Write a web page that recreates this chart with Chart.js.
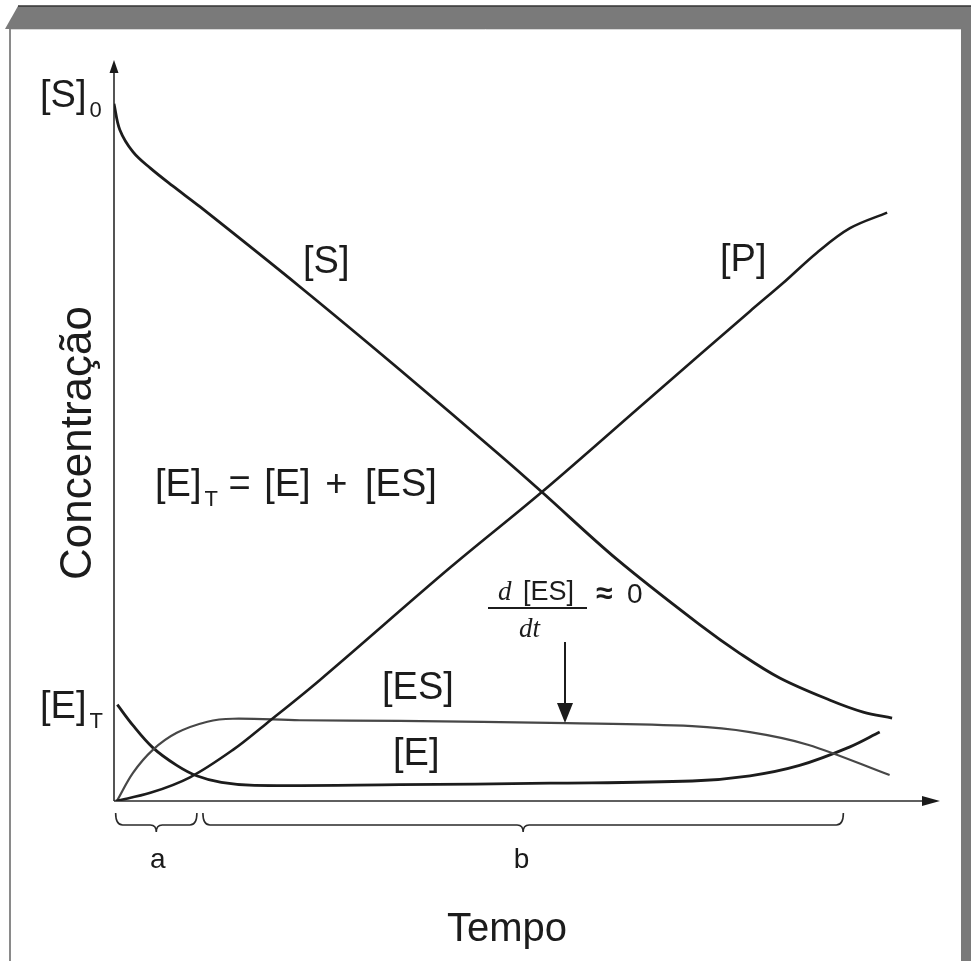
<!DOCTYPE html>
<html>
<head>
<meta charset="utf-8">
<script src="https://cdn.jsdelivr.net/npm/chart.js@4"></script>
<style>
  html, body { margin: 0; padding: 0; background: #fff; }
  #wrap { width: 971px; height: 961px; }
</style>
</head>
<body>
<div id="wrap"><canvas id="kinetics"></canvas></div>
<script>
// ─── Enzyme kinetics: concentration vs time ───
// time (0-100) and concentration (0-100)

const sTime = [0, 0.7, 2.3, 4.4, 7.1, 10.4, 22.5, 34.6, 46.7, 51.8, 60.9, 70.9, 75.8, 80.6, 86.7, 90.7, 94.2];
const sConc = [94.1, 90.6, 87.6, 85.4, 83.0, 80.2, 69.4, 58.2, 46.7, 41.7, 32.6, 23.8, 19.9, 16.6, 13.6, 12.0, 11.2];

const pTime = [0.2, 4.4, 9.2, 14.4, 18.5, 24.9, 40.7, 51.8, 64.9, 77.0, 81.0, 85.1, 89.1, 93.6];
const pConc = [0, 1.1, 3.2, 6.9, 10.5, 16.3, 31.5, 41.7, 54.4, 66.1, 69.9, 74.0, 77.3, 79.4];

const esTime = [0.4, 2.3, 4.7, 7.6, 11.3, 14.4, 22.5, 34.6, 54.8, 70.0, 77.0, 84.0, 93.9];
const esConc = [0.1, 3.8, 6.9, 9.2, 10.7, 11.1, 10.9, 10.8, 10.5, 10.1, 9.3, 7.6, 3.5];

const eTime = [0.4, 2.3, 4.7, 7.6, 10.0, 13.0, 17.0, 34.6, 52.8, 70.0, 77.0, 83.0, 89.1, 92.7];
const eConc = [13.0, 10.2, 7.2, 4.8, 3.4, 2.5, 2.1, 2.2, 2.4, 2.7, 3.4, 4.8, 7.3, 9.3];

// phase brackets on the time axis: a = pre-steady state, b = steady state
const phaseNames = ['a', 'b'];
const phaseStart = [0.2, 10.4];
const phaseEnd = [10.4, 88.3];

const INK = '#1c1c1c';
const SANS = "'Liberation Sans', Arial, sans-serif";
const SERIF = "'Liberation Serif', 'Times New Roman', serif";

const toXY = (xs, ys) => xs.map((x, i) => ({ x, y: ys[i] }));

function arrowHead(ctx, x, y, dir, len, half) {
    ctx.beginPath();
    if (dir === 'up') {
        ctx.moveTo(x, y); ctx.lineTo(x - half, y + len); ctx.lineTo(x + half, y + len);
    } else if (dir === 'down') {
        ctx.moveTo(x, y); ctx.lineTo(x - half, y - len); ctx.lineTo(x + half, y - len);
    } else {
        ctx.moveTo(x, y); ctx.lineTo(x - len, y - half); ctx.lineTo(x - len, y + half);
    }
    ctx.closePath();
    ctx.fill();
}

function brace(ctx, x1, x2, yTop, yMid, yTip) {
    const xm = (x1 + x2) / 2;
    ctx.beginPath();
    ctx.moveTo(x1, yTop);
    ctx.quadraticCurveTo(x1, yMid, x1 + 7, yMid);
    ctx.lineTo(xm - 6, yMid);
    ctx.quadraticCurveTo(xm, yMid, xm, yTip);
    ctx.quadraticCurveTo(xm, yMid, xm + 6, yMid);
    ctx.lineTo(x2 - 7, yMid);
    ctx.quadraticCurveTo(x2, yMid, x2, yTop);
    ctx.stroke();
}

// draws a run of text pieces left to right; each piece {t, font, dx, dy}
function textRun(ctx, x, y, pieces) {
    pieces.forEach(p => {
        ctx.font = p.font;
        x += p.dx || 0;
        ctx.fillText(p.t, x, y + (p.dy || 0));
        x += ctx.measureText(p.t).width;
    });
}

const framePlugin = {
    id: 'frame',
    beforeDraw: (chart) => {
        const ctx = chart.ctx;
        const W = chart.width, H = chart.height;
        ctx.save();
        ctx.fillStyle = '#fff';
        ctx.fillRect(0, 0, W, H);
        // bevelled grey frame (top + right), thin line on the left
        ctx.fillStyle = '#7a7a7a';
        ctx.beginPath();
        ctx.moveTo(5, 29); ctx.lineTo(18, 6); ctx.lineTo(W, 6); ctx.lineTo(W, 29);
        ctx.closePath();
        ctx.fill();
        ctx.fillRect(961, 6, W - 961, H - 6);
        ctx.strokeStyle = '#333';
        ctx.lineWidth = 1.5;
        ctx.beginPath(); ctx.moveTo(18, 6); ctx.lineTo(W, 6); ctx.stroke();
        ctx.strokeStyle = '#d8d8d8';
        ctx.lineWidth = 1;
        ctx.beginPath(); ctx.moveTo(10, 29.5); ctx.lineTo(961, 29.5); ctx.stroke();
        ctx.strokeStyle = '#8a8a8a';
        ctx.lineWidth = 2;
        ctx.beginPath(); ctx.moveTo(10, 29); ctx.lineTo(10, H); ctx.stroke();
        ctx.restore();
    }
};

const axesPlugin = {
    id: 'arrowAxes',
    beforeDatasetsDraw: (chart) => {
        const ctx = chart.ctx;
        const xs = chart.scales.x, ys = chart.scales.y;
        const x0 = xs.getPixelForValue(0), y0 = ys.getPixelForValue(0);
        const top = chart.chartArea.top, right = chart.chartArea.right;
        ctx.save();
        ctx.strokeStyle = '#2a2a2a';
        ctx.fillStyle = '#1a1a1a';
        ctx.lineWidth = 1.6;
        ctx.beginPath(); ctx.moveTo(x0, y0); ctx.lineTo(x0, top + 8); ctx.stroke();
        ctx.beginPath(); ctx.moveTo(x0, y0); ctx.lineTo(right - 10, y0); ctx.stroke();
        arrowHead(ctx, x0, top, 'up', 13, 4.5);
        arrowHead(ctx, right, y0, 'right', 18, 5);

        // phase braces under the time axis
        ctx.lineWidth = 1.6;
        ctx.font = '28px ' + SANS;
        ctx.textAlign = 'center';
        phaseNames.forEach((name, i) => {
            const a = xs.getPixelForValue(phaseStart[i]);
            const b = xs.getPixelForValue(phaseEnd[i]);
            brace(ctx, a + (i ? 3 : 0), b - (i ? 0 : 3), 813, 825, 832);
            ctx.fillText(name, (a + b) / 2, 868);
        });
        ctx.restore();
    },
    afterDatasetsDraw: (chart) => {
        const ctx = chart.ctx;
        ctx.save();
        ctx.fillStyle = INK;
        ctx.textAlign = 'left';
        ctx.textBaseline = 'alphabetic';
        const big = '38px ' + SANS, sub = '22px ' + SANS;

        // axis end labels
        textRun(ctx, 40, 107, [{ t: '[S]', font: big }, { t: '0', font: sub, dy: 10, dx: 3 }]);
        textRun(ctx, 40, 718, [{ t: '[E]', font: big }, { t: 'T', font: sub, dy: 10, dx: 3 }]);

        // curve labels
        ctx.font = big;
        ctx.fillText('[S]', 303, 273);
        ctx.fillText('[P]', 720, 271);
        ctx.fillText('[ES]', 382, 699);
        ctx.fillText('[E]', 393, 765);

        // conservation equation
        textRun(ctx, 155, 496, [
            { t: '[E]', font: big },
            { t: 'T', font: sub, dy: 10, dx: 3 },
            { t: ' = ', font: big },
            { t: '[E]', font: big, dx: 3 },
            { t: ' + ', font: big, dx: 4 },
            { t: '[ES]', font: big, dx: 7 }
        ]);

        // steady-state annotation
        ctx.font = 'italic 27px ' + SERIF;
        ctx.fillText('d', 498, 600);
        ctx.font = '27px ' + SANS;
        ctx.fillText('[ES]', 523, 600);
        ctx.font = 'italic 27px ' + SERIF;
        ctx.fillText('dt', 519, 637);
        ctx.font = 'bold 30px ' + SANS;
        ctx.fillText('\u2248', 596, 603);
        ctx.font = '28px ' + SANS;
        ctx.fillText('0', 627, 603);
        ctx.strokeStyle = INK;
        ctx.lineWidth = 2;
        ctx.beginPath(); ctx.moveTo(488, 608); ctx.lineTo(587, 608); ctx.stroke();
        ctx.beginPath(); ctx.moveTo(565, 642); ctx.lineTo(565, 708); ctx.stroke();
        arrowHead(ctx, 565, 723, 'down', 20, 8);

        // axis titles
        ctx.font = '40px ' + SANS;
        ctx.textAlign = 'center';
        ctx.fillText('Tempo', 507, 941);
        ctx.font = '44px ' + SANS;
        ctx.translate(91, 443);
        ctx.rotate(-Math.PI / 2);
        ctx.fillText('Concentração', 0, 0);
        ctx.restore();
    }
};

const curve = (label, xs, ys, color, width) => ({
    label,
    data: toXY(xs, ys),
    borderColor: color,
    borderWidth: width,
    pointRadius: 0,
    fill: false,
    tension: 0.35
});

new Chart(document.getElementById('kinetics'), {
    type: 'line',
    data: {
        datasets: [
            curve('[S]', sTime, sConc, INK, 2.8),
            curve('[P]', pTime, pConc, INK, 2.6),
            curve('[ES]', esTime, esConc, '#474747', 2.2),
            curve('[E]', eTime, eConc, INK, 2.8)
        ]
    },
    options: {
        responsive: true,
        maintainAspectRatio: false,
        animation: false,
        layout: { padding: { left: 114, right: 31, top: 60, bottom: 160 } },
        plugins: { legend: { display: false }, tooltip: { enabled: false } },
        scales: {
            x: { type: 'linear', min: 0, max: 100, display: false },
            y: { min: 0, max: 100, display: false }
        }
    },
    plugins: [framePlugin, axesPlugin]
});
</script>
</body>
</html>
